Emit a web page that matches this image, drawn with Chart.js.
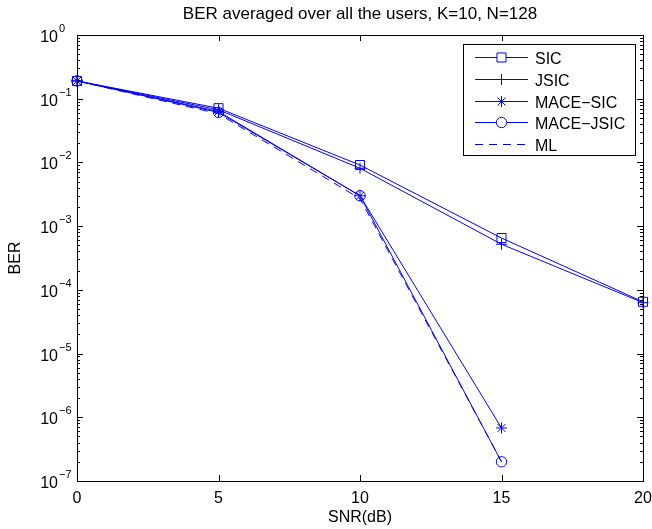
<!DOCTYPE html>
<html>
<head>
<meta charset="utf-8">
<script src="https://cdn.jsdelivr.net/npm/chart.js@4"></script>
<style>
  html, body { margin: 0; padding: 0; background: #fff; }
  #wrap { width: 652px; height: 529px; }
</style>
</head>
<body>
<div id="wrap"><canvas id="ber-chart"></canvas></div>
<script>
// values
const snr = [0, 5, 10, 15, 20];
const berSIC = [0.19, 0.071, 9.1e-3, 6.5e-4, 6.5e-5];
const berJSIC = [0.19, 0.067, 8.1e-3, 5.2e-4, 6.3e-5];
const berMaceSIC = [0.19, 0.063, 3.0e-3, 6.8e-7, null];
const berMaceJSIC = [0.19, 0.061, 3.0e-3, 2.0e-7, null];
const berML = [0.19, 0.058, 2.7e-3, 2.0e-7, null];
const xTicks = [0, 5, 10, 15, 20];
const yExponents = [0, -1, -2, -3, -4, -5, -6, -7];

const FONT = '"Liberation Sans", Arial, Helvetica, sans-serif';
const BLUE = 'rgb(0,0,255)';

function pts(ys) {
  return snr.map((x, i) => ({ x: x, y: ys[i] })).filter(p => p.y !== null);
}

function series(label, ys, style, radius, dash) {
  return {
    label: label,
    data: pts(ys),
    borderColor: BLUE,
    backgroundColor: 'rgba(0,0,0,0)',
    borderWidth: 1,
    borderDash: dash || [],
    pointStyle: style,
    pointRadius: radius,
    pointBorderColor: BLUE,
    pointBorderWidth: 1,
    pointBackgroundColor: 'rgba(0,0,0,0)',
    tension: 0,
    clip: false
  };
}

const datasets = [
  series('SIC', berSIC, 'rect', 6.4),
  series('JSIC', berJSIC, 'cross', 5.5),
  series('MACE\u2212SIC', berMaceSIC, 'star', 5.5),
  series('MACE\u2212JSIC', berMaceJSIC, 'circle', 5.2),
  series('ML', berML, false, 0, [8, 6])
];

// matlab style box, inward ticks, labels and legend
const matlabAxes = {
  id: 'matlabAxes',
  afterDraw(chart) {
    const ctx = chart.ctx;
    const a = chart.chartArea;
    const xs = chart.scales.x, ys = chart.scales.y;
    ctx.save();
    ctx.strokeStyle = '#000';
    ctx.fillStyle = '#000';
    ctx.lineWidth = 1;
    ctx.strokeRect(a.left + 0.5, a.top + 0.5, a.right - a.left, a.bottom - a.top);

    ctx.beginPath();
    xTicks.forEach(t => {
      const px = Math.round(xs.getPixelForValue(t)) + 0.5;
      ctx.moveTo(px, a.bottom); ctx.lineTo(px, a.bottom - 6);
      ctx.moveTo(px, a.top); ctx.lineTo(px, a.top + 6);
    });
    yExponents.forEach(e => {
      const py = Math.round(ys.getPixelForValue(Math.pow(10, e))) + 0.5;
      ctx.moveTo(a.left, py); ctx.lineTo(a.left + 6, py);
      ctx.moveTo(a.right, py); ctx.lineTo(a.right - 6, py);
      if (e < 0) {
        for (let m = 2; m <= 9; m++) {
          const pm = Math.round(ys.getPixelForValue(m * Math.pow(10, e))) + 0.5;
          ctx.moveTo(a.left, pm); ctx.lineTo(a.left + 3, pm);
          ctx.moveTo(a.right, pm); ctx.lineTo(a.right - 3, pm);
        }
      }
    });
    ctx.stroke();

    // x tick labels
    ctx.font = '16px ' + FONT;
    ctx.textAlign = 'center';
    ctx.textBaseline = 'alphabetic';
    xTicks.forEach(t => {
      ctx.fillText(String(t), xs.getPixelForValue(t), a.bottom + 22);
    });

    // y tick labels: 10 with superscript exponent
    yExponents.forEach(e => {
      const py = ys.getPixelForValue(Math.pow(10, e));
      ctx.font = '16px ' + FONT;
      ctx.textAlign = 'right';
      ctx.fillText('10', 58, py + 7);
      ctx.font = '11px ' + FONT;
      ctx.textAlign = 'left';
      ctx.fillText(e === 0 ? '0' : '\u2212' + (-e), 59, py - 3);
    });

    // title and axis labels
    const cx = (a.left + a.right) / 2;
    ctx.textAlign = 'center';
    ctx.font = '17px ' + FONT;
    ctx.fillText('BER averaged over all the users, K=10, N=128', cx, 19);
    ctx.font = '16px ' + FONT;
    ctx.fillText('SNR(dB)', cx, 522);
    ctx.save();
    ctx.translate(20, (a.top + a.bottom) / 2);
    ctx.rotate(-Math.PI / 2);
    ctx.fillText('BER', 0, 0);
    ctx.restore();

    // legend
    const lx = 463, ly = 44, lw = 172, lh = 111;
    ctx.fillStyle = '#fff';
    ctx.fillRect(lx, ly, lw, lh);
    ctx.strokeStyle = '#000';
    ctx.strokeRect(lx + 0.5, ly + 0.5, lw, lh);
    chart.data.datasets.forEach((ds, i) => {
      const ry = Math.round(57 + i * 21.8) + 0.5;
      ctx.strokeStyle = BLUE;
      ctx.lineWidth = 1;
      ctx.setLineDash(ds.borderDash);
      ctx.beginPath();
      ctx.moveTo(475, ry); ctx.lineTo(528, ry);
      ctx.stroke();
      ctx.setLineDash([]);
      if (ds.pointStyle) {
        ctx.fillStyle = '#fff';
        ctx.strokeStyle = BLUE;
        Chart.helpers.drawPoint(ctx, {
          pointStyle: ds.pointStyle, radius: ds.pointRadius, borderWidth: 1, rotation: 0
        }, 501.5, ry);
      }
      ctx.fillStyle = '#000';
      ctx.font = '16px ' + FONT;
      ctx.textAlign = 'left';
      ctx.fillText(ds.label, 535, ry + 6);
    });
    ctx.restore();
  }
};

new Chart('ber-chart', {
  type: 'line',
  data: { datasets: datasets },
  options: {
    responsive: true,
    maintainAspectRatio: false,
    animation: false,
    layout: { padding: { left: 0, right: 9, top: 35, bottom: 0 } },
    plugins: { legend: { display: false }, tooltip: { enabled: false } },
    scales: {
      x: {
        type: 'linear', min: 0, max: 20,
        grid: { display: false, drawTicks: false },
        border: { display: false },
        ticks: { display: false },
        afterFit: s => { s.height = 48; }
      },
      y: {
        type: 'logarithmic', min: 1e-7, max: 1,
        grid: { display: false, drawTicks: false },
        border: { display: false },
        ticks: { display: false },
        afterFit: s => { s.width = 77; }
      }
    }
  },
  plugins: [matlabAxes]
});
</script>
</body>
</html>
